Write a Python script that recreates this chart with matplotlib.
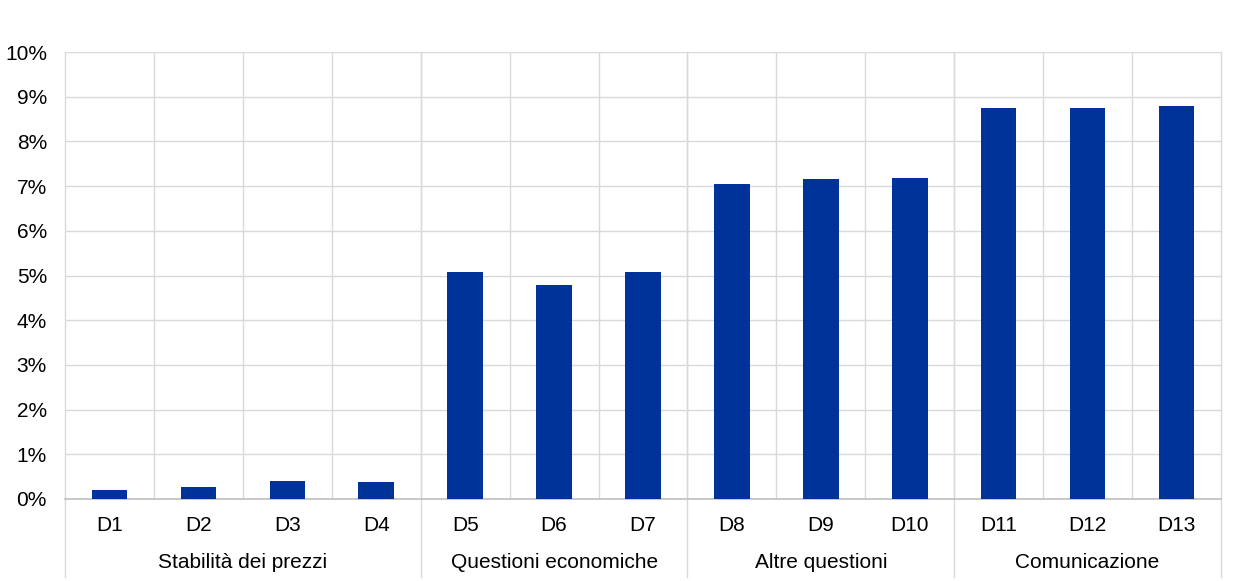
import matplotlib.pyplot as plt
import matplotlib.transforms as mtrans
from matplotlib.ticker import FuncFormatter

plt.rcParams["font.family"] = ["Liberation Sans", "DejaVu Sans"]

# data {{{
labels = ["D1", "D2", "D3", "D4", "D5", "D6", "D7",
          "D8", "D9", "D10", "D11", "D12", "D13"]
values = [0.20, 0.27, 0.40, 0.38, 5.08, 4.79, 5.08,
          7.05, 7.16, 7.18, 8.75, 8.75, 8.79]
groups = ["Stabilità dei prezzi", "Questioni economiche",
          "Altre questioni", "Comunicazione"]
group_sizes = [4, 3, 3, 3]
# }}}

fig = plt.figure(figsize=(12.4, 5.81), dpi=100)
ax = fig.add_axes([65 / 1240, 1 - 499 / 581, 1156 / 1240, 447 / 581])

x = list(range(len(labels)))
ax.bar(x, values, width=0.4, color="#003399", zorder=3)

ax.set_xlim(-0.5, len(labels) - 0.5)
ax.set_ylim(0, 10)
ax.set_yticks(range(0, 11))
ax.yaxis.set_major_formatter(FuncFormatter(lambda v, p: "%d%%" % v))
ax.set_xticks(x)
ax.set_xticklabels(labels)
ax.tick_params(axis="both", length=0, labelsize=15, colors="black")
ax.tick_params(axis="x", pad=12)
ax.tick_params(axis="y", pad=13)

grid_c = "#d9d9d9"
ax.grid(axis="y", color=grid_c, linewidth=1, zorder=0)
for b in range(1, len(labels)):
    ax.axvline(b - 0.5, color=grid_c, linewidth=1, zorder=0)

for s in ["top", "right", "left"]:
    ax.spines[s].set_visible(False)
ax.spines["bottom"].set_color("#bfbfbf")
ax.spines["bottom"].set_linewidth(1.2)

# group separators extending below the axis
trans = mtrans.blended_transform_factory(ax.transData, ax.transAxes)
bottom = -78 / 447
edges = [-0.5]
for n in group_sizes:
    edges.append(edges[-1] + n)
for e in edges:
    ax.plot([e, e], [1, bottom], color=grid_c, linewidth=1,
            transform=trans, clip_on=False, zorder=1)

# group labels
start = -0.5
for g, n in zip(groups, group_sizes):
    ax.text(start + n / 2, -64 / 447, g, transform=trans,
            ha="center", va="center", fontsize=15)
    start += n

fig.savefig("out.png", dpi=100)
